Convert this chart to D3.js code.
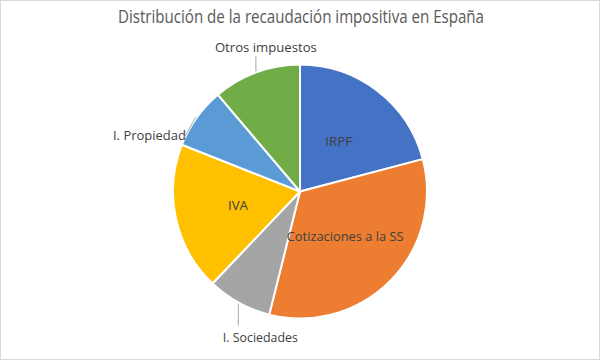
<!DOCTYPE html>
<html><head><meta charset="utf-8">
<script src="https://cdn.jsdelivr.net/npm/d3@7"></script>
<style>html,body{margin:0;padding:0;background:#fff}svg{display:block}</style>
</head><body>
<svg id="c" width="600" height="360"></svg>
<script>
const categories = ["IRPF","Cotizaciones a la SS","I. Sociedades","IVA","I. Propiedad","Otros impuestos"];
const values = [20.9, 33.0, 8.2, 18.9, 7.8, 11.2];
const colors = ["#4472C4","#ED7D31","#A5A5A5","#FFC000","#5B9BD5","#70AD47"];
const title = "Distribución de la recaudación impositiva en España";

const W = 600, H = 360, cx = 300, cy = 191.5, R = 127;
const font = "'Open Sans', 'Noto Sans', sans-serif";
const svg = d3.select("#c");
svg.append("rect").attr("x",0.5).attr("y",0.5).attr("width",W-1).attr("height",H-1)
  .attr("fill","#fff").attr("stroke","#d9d9d9");

svg.append("text").attr("x",W/2+1).attr("y",23).attr("text-anchor","middle")
  .attr("font-family",font).attr("fill","#595959").attr("font-size",18.5)
  .attr("textLength",366).attr("lengthAdjust","spacingAndGlyphs").text(title);

const pie = d3.pie().sort(null).value(d=>d)(values);
const arc = d3.arc().innerRadius(0).outerRadius(R);
const g = svg.append("g").attr("transform",`translate(${cx},${cy})`);
g.selectAll("path").data(pie).join("path")
  .attr("d",arc).attr("fill",(d,i)=>colors[i])
  .attr("stroke","#fff").attr("stroke-width",2).attr("stroke-linejoin","round");

const outside = {
  2: {line:[[0,0],[0,22]], text:[22,34]},
  4: {line:[[0,0],[-11.7,20.5]], text:[-46.5,18.5]},
  5: {line:[[0,0],[0,-15]], text:[10,-24]}
};
const widths = {0:27,1:117,2:75,3:20,4:73,5:102};
pie.forEach((d,i)=>{
  const a = (d.startAngle+d.endAngle)/2;
  const lab = g.append("text").attr("font-family",font).attr("fill","#404040")
    .attr("font-size",12.5).attr("text-anchor","middle").attr("dy","0.36em")
    .attr("textLength",widths[i]).attr("lengthAdjust","spacingAndGlyphs").text(categories[i]);
  if (outside[i]) {
    const ex = (R+1)*Math.sin(a), ey = -(R+1)*Math.cos(a);
    const o = outside[i];
    g.append("path").attr("d", d3.line()(o.line.map(p=>[ex+p[0],ey+p[1]])))
      .attr("stroke","#a6a6a6").attr("stroke-width",1).attr("fill","none");
    lab.attr("x",ex+o.text[0]).attr("y",ey+o.text[1]);
  } else {
    const c = arc.centroid(d);
    lab.attr("x",c[0]).attr("y",c[1]);
  }
});
</script>
</body></html>
